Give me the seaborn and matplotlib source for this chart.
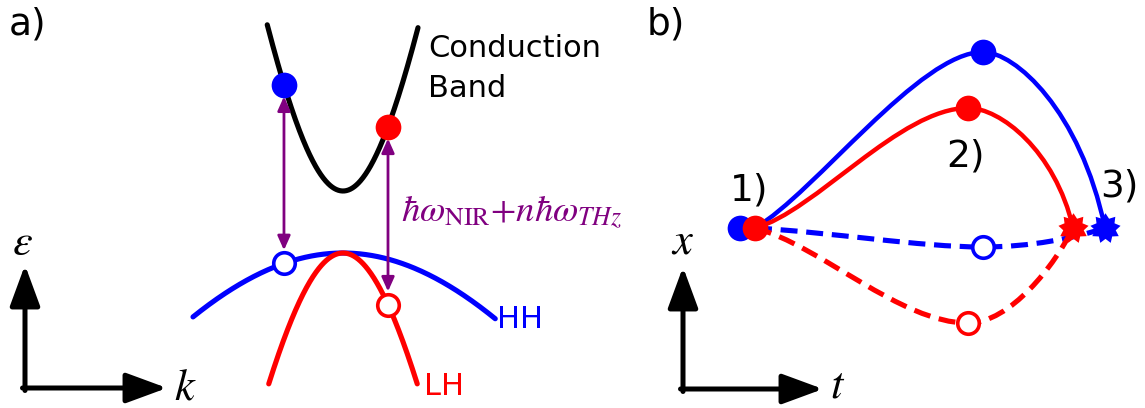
import numpy as np
import matplotlib
matplotlib.use("Agg")
import matplotlib.pyplot as plt
import seaborn as sns
from matplotlib.path import Path
from matplotlib.patches import PathPatch, FancyArrowPatch

# ---------------- band-structure parameters (panel a) ----------------
# Kane-type nonparabolic bands: eps * (1 + alpha * eps) = A * k^2
band_gap = 0.62          # conduction-band minimum above the valence-band top
nonparabolicity = 0.10   # alpha
A_cb = 1.90              # conduction band curvature
A_hh = 0.17              # heavy-hole curvature
A_lh = 1.51              # light-hole curvature
k_range_cb = [-1.01, 1.00]
k_range_hh = [-2.00, 2.03]
k_range_lh = [-0.99, 0.99]
k_transitions = [-0.787, 0.60]          # HH -> CB (blue), LH -> CB (red)
transition_bands = ["HH", "LH"]

# ---------------- trajectories (panel b), cubic Bezier control points ----------------
# (t, x): start, ctrl, ctrl, turning point, ctrl, ctrl, recollision
electron_hh = [(0.0, 0.0), (0.171, 0.199), (0.471, 1.0), (0.651, 1.0),
               (0.743, 1.0), (0.929, 0.670), (1.0, 0.0)]
electron_lh = [(0.0, 0.0), (0.171, 0.091), (0.414, 0.682), (0.609, 0.682),
               (0.700, 0.682), (0.857, 0.443), (0.909, 0.0)]
hole_hh = [(0.0, 0.0), (0.214, -0.023), (0.471, -0.108), (0.651, -0.108),
           (0.786, -0.108), (0.914, -0.057), (1.0, 0.0)]
hole_lh = [(0.0, 0.0), (0.186, -0.097), (0.414, -0.540), (0.609, -0.540),
           (0.729, -0.540), (0.857, -0.210), (0.909, 0.0)]
start_offset_hh = -0.043   # blue starting dot sits just left of the red one

BLUE, RED, PURPLE, BLACK = "#0000ff", "#ff0000", "#800080", "#000000"

sns.set_theme(style="white")
plt.rcParams["font.family"] = ["DejaVu Sans"]
plt.rcParams["mathtext.fontset"] = "stix"
plt.rcParams["text.color"] = BLACK

W, H = 1145, 408
fig = plt.figure(figsize=(W / 100, H / 100), dpi=100)


def px(x, y):
    """Figure-fraction position from pixel coordinates measured from the top-left."""
    return x / W, 1 - y / H


# panel a axes: k horizontally, energy vertically
ax_a = fig.add_axes([0, 0, 1, 1])
ax_a.set_xlim(-4.5733, 10.6933)
ax_a.set_ylim(-1.55, 2.53)
ax_a.axis("off")

# panel b axes: time horizontally, position vertically
ax_b = fig.add_axes([0, 0, 1, 1])
ax_b.set_xlim(-2.1571, 1.1143)
ax_b.set_ylim(-1.0227, 1.2955)
ax_b.axis("off")
ax_b.patch.set_visible(False)


def kane(k, A):
    s = A * np.asarray(k) ** 2
    return (-1 + np.sqrt(1 + 4 * nonparabolicity * s)) / (2 * nonparabolicity)


def cb(k):
    return band_gap + kane(k, A_cb)


def hh(k):
    return -kane(k, A_hh)


def lh(k):
    return -kane(k, A_lh)


band_lw = 3.7
k = np.linspace(*k_range_hh, 300)
sns.lineplot(x=k, y=hh(k), ax=ax_a, color=BLUE, lw=band_lw, sort=False,
             estimator=None, zorder=2)
k = np.linspace(*k_range_lh, 300)
sns.lineplot(x=k, y=lh(k), ax=ax_a, color=RED, lw=band_lw, sort=False,
             estimator=None, zorder=2.1)
k = np.linspace(*k_range_cb, 300)
sns.lineplot(x=k, y=cb(k), ax=ax_a, color=BLACK, lw=band_lw, sort=False,
             estimator=None, zorder=2)

# optical transitions
for kt, band, col in zip(k_transitions, transition_bands, [BLUE, RED]):
    ev = hh(kt) if band == "HH" else lh(kt)
    ec = cb(kt)
    ax_a.annotate("", xy=(kt, ev), xytext=(kt, ec),
                  arrowprops=dict(arrowstyle="<|-|>,head_length=0.85,head_width=0.38",
                                  mutation_scale=10, color=PURPLE, lw=2.0,
                                  shrinkA=8.5, shrinkB=9.5),
                  zorder=3)
    ax_a.plot(kt, ec, "o", ms=18.5, mew=0, color=col, zorder=5)
    ax_a.plot(kt, ev, "o", ms=15.5, mew=2.6, mfc="white", mec=col, zorder=5)


# trajectories
def bezier_path(pts):
    codes = [Path.MOVETO] + [Path.CURVE4] * 6
    return Path(pts, codes)


traj_lw = 3.2
dash = (0, (3.3, 1.7))
star = Path.unit_regular_star(9, innerCircle=0.68)

for pts, col, ls in [(hole_hh, BLUE, dash), (hole_lh, RED, dash),
                     (electron_hh, BLUE, "-"), (electron_lh, RED, "-")]:
    lw = traj_lw if ls == "-" else 3.7
    ax_b.add_patch(PathPatch(bezier_path(pts), fill=False, edgecolor=col, lw=lw,
                             linestyle=ls, capstyle="butt", zorder=2))

# turning points
for pts, col in [(electron_hh, BLUE), (electron_lh, RED)]:
    ax_b.plot(*pts[3], "o", ms=18.5, mew=0, color=col, zorder=5)
for pts, col in [(hole_hh, BLUE), (hole_lh, RED)]:
    ax_b.plot(*pts[3], "o", ms=15.5, mew=2.6, mfc="white", mec=col, zorder=5)

# creation points
ax_b.plot(start_offset_hh, electron_hh[0][1], "o", ms=18.5, mew=0, color=BLUE, zorder=5)
ax_b.plot(*electron_lh[0], "o", ms=18.5, mew=0, color=RED, zorder=5.1)

# recollision points
ax_b.plot(*electron_lh[-1], marker=star, ms=22, mew=0, color=RED, zorder=5)
ax_b.plot(*electron_hh[-1], marker=star, ms=22, mew=0, color=BLUE, zorder=5.1)


# coordinate arrows
def axis_arrow(x0, y0, x1, y1):
    fig.add_artist(FancyArrowPatch(
        px(x0, y0), px(x1, y1), transform=fig.transFigure,
        arrowstyle="-|>,head_length=25,head_width=9.2", mutation_scale=1,
        color=BLACK, lw=3.6, shrinkA=0, shrinkB=0))


for cx, cy, tx, ty in [(25, 388, 167, 265), (683, 389, 823, 267)]:
    axis_arrow(cx, cy + 2.5, cx, ty)
    axis_arrow(cx - 2.5, cy, tx, cy)

math_fs = 32
fig.text(*px(12, 255), r"$\varepsilon$", fontsize=math_fs, va="baseline")
fig.text(*px(174, 400), r"$k$", fontsize=math_fs, va="baseline")
fig.text(*px(671, 254), r"$x$", fontsize=math_fs, va="baseline")
fig.text(*px(830, 397), r"$t$", fontsize=math_fs, va="baseline")

fs = 22
lab_fs = 27
fig.text(*px(9, 35), "a)", fontsize=lab_fs, va="baseline")
fig.text(*px(647, 35), "b)", fontsize=lab_fs, va="baseline")
fig.text(*px(428, 57), "Conduction", fontsize=fs, va="baseline")
fig.text(*px(428, 97), "Band", fontsize=fs, va="baseline")
fig.text(*px(497, 328), "HH", fontsize=fs, va="baseline", color=BLUE)
fig.text(*px(424, 395), "LH", fontsize=fs, va="baseline", color=RED)
fig.text(*px(730, 201), "1)", fontsize=lab_fs, va="baseline")
fig.text(*px(946, 166), "2)", fontsize=lab_fs, va="baseline")
fig.text(*px(1100, 196), "3)", fontsize=lab_fs, va="baseline")
fig.text(*px(401, 222),
         r"$\hbar\omega_{\mathrm{NIR}}{+}n\hbar\omega_{THz}$",
         fontsize=26.5, va="baseline", color=PURPLE)

fig.savefig("out.png", dpi=100)
